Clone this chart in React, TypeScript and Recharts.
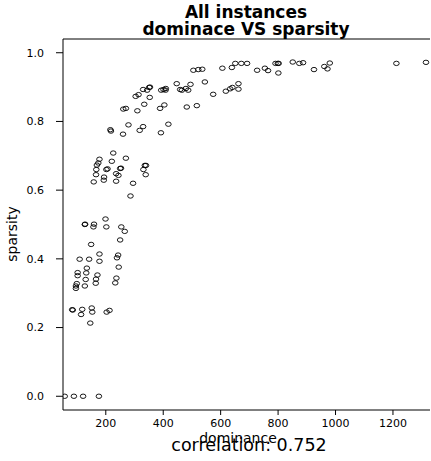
import React from 'react';
import {ReferenceLine, Scatter, ScatterChart, XAxis, YAxis} from 'recharts';

// values
const dominance = [
    505, 522, 536, 606, 639, 651, 672, 692, 447, 495, 545, 662, 662, 633, 641, 618, 574,
    459, 465, 479, 487, 393, 401, 409, 408, 354, 351, 330, 344, 314, 304, 353, 334, 404,
    389, 310, 270, 261, 482, 517, 418, 392, 330, 318, 279, 260, 216, 218, 226, 270, 221,
    178, 174, 169, 167, 202, 206, 166, 158, 194, 193, 236, 244, 236, 250, 253, 336, 340,
    331, 339, 295, 286, 199, 127, 128, 159, 157, 202, 254, 266, 250, 149, 178, 178, 243,
    239, 109, 142, 245, 134, 102, 102, 132, 171, 166, 165, 130, 237, 233, 99, 96, 96, 127,
    85, 83, 118, 114, 151, 153, 203, 213, 146, 57, 89, 121, 176, 727, 754, 765, 791, 802,
    799, 801, 851, 874, 887, 925, 961, 972, 980, 1212, 1315,
];
const sparsity = [
    0.949, 0.951, 0.952, 0.955, 0.957, 0.969, 0.969, 0.969, 0.91, 0.908, 0.915, 0.91, 0.894,
    0.895, 0.899, 0.888, 0.879, 0.893, 0.891, 0.896, 0.891, 0.891, 0.893, 0.896, 0.891, 0.9,
    0.899, 0.893, 0.891, 0.878, 0.873, 0.87, 0.85, 0.848, 0.838, 0.831, 0.838, 0.836, 0.842,
    0.846, 0.792, 0.767, 0.785, 0.774, 0.79, 0.763, 0.776, 0.772, 0.708, 0.693, 0.684, 0.69,
    0.679, 0.673, 0.66, 0.66, 0.662, 0.645, 0.624, 0.638, 0.629, 0.648, 0.643, 0.626, 0.663,
    0.664, 0.672, 0.672, 0.66, 0.645, 0.62, 0.583, 0.516, 0.5, 0.501, 0.501, 0.493, 0.493,
    0.493, 0.48, 0.455, 0.442, 0.414, 0.393, 0.411, 0.403, 0.399, 0.399, 0.376, 0.373, 0.36,
    0.351, 0.359, 0.353, 0.341, 0.329, 0.34, 0.344, 0.33, 0.328, 0.321, 0.314, 0.321, 0.251,
    0.252, 0.253, 0.238, 0.257, 0.245, 0.245, 0.25, 0.213, 0, 0, 0, 0, 0.949, 0.955, 0.948,
    0.969, 0.969, 0.969, 0.941, 0.973, 0.969, 0.971, 0.951, 0.96, 0.953, 0.97, 0.969, 0.972,
];
const xTicks = [200, 400, 600, 800, 1000, 1200];
const yTicks = [0, 0.2, 0.4, 0.6, 0.8, 1.0];
const titleLines = ['All instances', 'dominace VS sparsity'];
const correlation = 0.752;

const data = dominance.map((d, i) => ({dominance: d, sparsity: sparsity[i]}));

const font = '"DejaVu Sans", sans-serif';

const OpenCircle = (props: any) => (
    <ellipse cx={props.cx} cy={props.cy} rx={2.8} ry={2.2} fill="none" stroke="#000" strokeWidth={0.9}/>
);

export default function App() {
    return (
        <div style={{position: 'absolute', left: 0, top: 0, width: 431, height: 461, background: '#fff'}}>
            <ScatterChart width={431} height={461} margin={{top: 39, right: 1, bottom: 0, left: 0}}>
                <XAxis
                    type="number"
                    dataKey="dominance"
                    domain={[51, 1329]}
                    ticks={xTicks}
                    allowDataOverflow
                    height={51}
                    tickSize={5}
                    tickMargin={4}
                    axisLine={{stroke: '#000'}}
                    tickLine={{stroke: '#000'}}
                    tick={{fontSize: 11, fill: '#000', fontFamily: font}}
                />
                <YAxis
                    type="number"
                    dataKey="sparsity"
                    domain={[-0.04, 1.04]}
                    ticks={yTicks}
                    allowDataOverflow
                    width={63}
                    tickSize={7}
                    tickMargin={12}
                    tickFormatter={(v: number) => v.toFixed(1)}
                    axisLine={{stroke: '#000'}}
                    tickLine={{stroke: '#000'}}
                    tick={{fontSize: 11, fill: '#000', fontFamily: font}}
                />
                <ReferenceLine y={1.04} stroke="#000" ifOverflow="visible"/>
                <Scatter data={data} shape={OpenCircle} isAnimationActive={false}/>
            </ScatterChart>
            <svg width={431} height={461} style={{position: 'absolute', left: 0, top: 0, pointerEvents: 'none'}}>
                <g fontFamily={font} fill="#000">
                    <text x={246} y={18} textAnchor="middle" fontSize={17} fontWeight="bold">{titleLines[0]}</text>
                    <text x={246} y={35} textAnchor="middle" fontSize={17} fontWeight="bold">{titleLines[1]}</text>
                    <text x={238} y={443} textAnchor="middle" fontSize={14}>dominance</text>
                    <text x={249} y={451} textAnchor="middle" fontSize={17.5}>{`correlation: ${correlation}`}</text>
                    <text x={17} y={234} textAnchor="middle" fontSize={14} transform="rotate(-90 17 234)">sparsity</text>
                </g>
            </svg>
        </div>
    );
}
